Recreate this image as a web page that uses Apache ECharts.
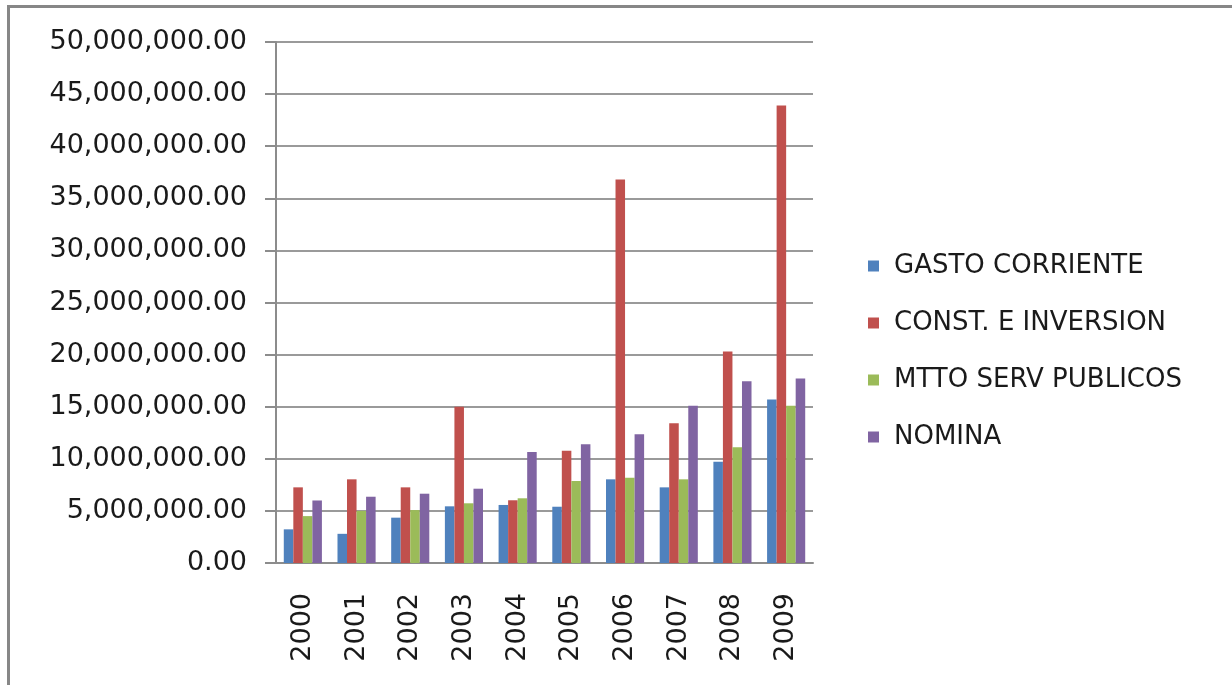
<!DOCTYPE html>
<html lang="es">
<head>
    <meta charset="UTF-8">
    <title>Gasto por año</title>
    <script src="https://cdn.jsdelivr.net/npm/echarts@6/dist/echarts.min.js"></script>
    <style>
        html, body {margin: 0; padding: 0; background: #fff;}
        #frame {position: absolute; left: 7px; top: 5px; width: 1240px; height: 700px;
            border-left: 3px solid #878787; border-top: 3px solid #878787;}
        #chart {position: absolute; left: 0; top: 0; width: 1232px; height: 685px;}
    </style>
</head>
<body>
<div id="frame"></div>
<div id="chart"></div>
<script type="text/javascript">
    // años
    const years = ['2000', '2001', '2002', '2003', '2004', '2005', '2006', '2007', '2008', '2009'];
    // valores
    const gastoCorriente = [3230000, 2800000, 4350000, 5440000, 5570000, 5400000, 8030000, 7260000, 9720000, 15700000];
    const constInversion = [7260000, 8030000, 7260000, 15000000, 6020000, 10780000, 36800000, 13400000, 20300000, 43900000];
    const mttoServPublicos = [4500000, 5000000, 5080000, 5730000, 6210000, 7870000, 8190000, 8030000, 11100000, 15100000];
    const nomina = [6000000, 6360000, 6650000, 7130000, 10650000, 11390000, 12350000, 15100000, 17440000, 17700000];
    const seriesNames = ['GASTO CORRIENTE', 'CONST. E INVERSION', 'MTTO SERV PUBLICOS', 'NOMINA'];
    const colors = ['#4F81BD', '#C0504D', '#9BBB59', '#8064A2'];

    function fmt(v) {
        let s = Math.round(v).toString().replace(/\B(?=(\d{3})+(?!\d))/g, ',');
        return s + '.00';
    }

    let chart = echarts.init(document.getElementById('chart'));
    let allData = [gastoCorriente, constInversion, mttoServPublicos, nomina];
    let series = [];
    for (let i = 0; i < seriesNames.length; i++) {
        series.push({
            name: seriesNames[i],
            type: 'bar',
            data: allData[i],
            barGap: '0%',
            barCategoryGap: '29%',
            itemStyle: {color: colors[i]}
        });
    }

    let option = {
        animation: false,
        color: colors,
        textStyle: {fontFamily: 'DejaVu Sans', color: '#1a1a1a'},
        grid: {left: 276, right: 419, top: 42, bottom: 122},
        legend: {
            orient: 'vertical',
            left: 863,
            top: 247,
            itemWidth: 11,
            itemHeight: 11,
            itemGap: 29,
            icon: 'rect',
            data: seriesNames,
            textStyle: {fontSize: 26, lineHeight: 28, color: '#1a1a1a', fontFamily: 'DejaVu Sans', padding: [0, 0, 0, 10]}
        },
        xAxis: {
            type: 'category',
            data: years,
            axisLine: {lineStyle: {color: '#8c8c8c', width: 2}},
            axisTick: {length: 11, lineStyle: {color: '#8c8c8c', width: 2}},
            axisLabel: {rotate: 90, margin: 30, fontSize: 27, color: '#1a1a1a'}
        },
        yAxis: {
            type: 'value',
            min: 0,
            max: 50000000,
            interval: 5000000,
            axisLine: {show: true, lineStyle: {color: '#8c8c8c', width: 2}},
            axisTick: {show: true, length: 11, lineStyle: {color: '#8c8c8c', width: 2}},
            splitLine: {lineStyle: {color: '#9a9a9a', width: 2}},
            axisLabel: {margin: 29, fontSize: 27, color: '#1a1a1a', formatter: fmt}
        },
        series: series
    };
    chart.setOption(option);
</script>
</body>
</html>
